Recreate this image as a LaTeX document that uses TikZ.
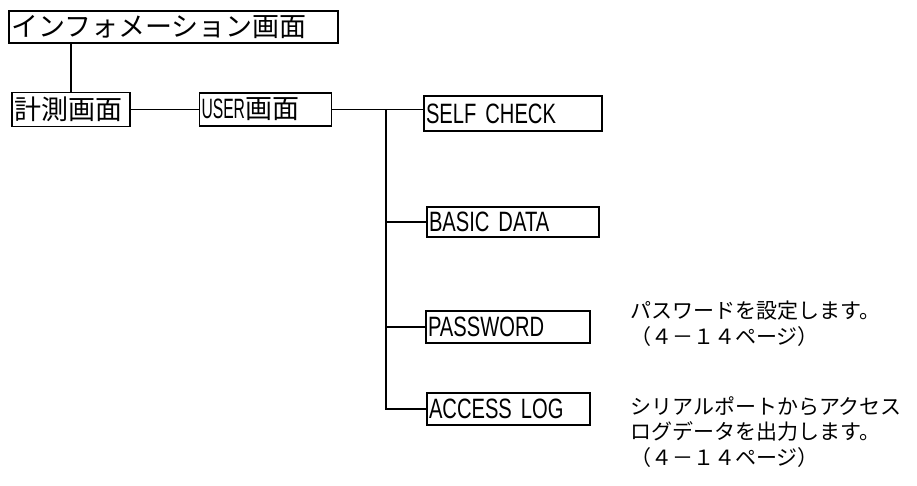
\documentclass[tikz,border=0pt]{standalone}
\usepackage{fontspec}
\setmainfont{Noto Sans CJK JP}
\newfontfamily\condfont{Liberation Sans}[FakeStretch=0.72]
\newfontfamily\narrowfont{Liberation Sans}[FakeStretch=0.56]
\usetikzlibrary{positioning}

\tikzset{
  screen/.style={draw, line width=1.3pt, inner xsep=2pt, inner ysep=0pt, align=left,
    font=\fontsize{27}{27}\selectfont},
  tree/.style={line width=1.3pt},
  note/.style={anchor=north west, align=left, inner sep=0pt,
    font=\fontsize{21}{21.5}\selectfont}
}
\newcommand{\lat}[1]{{\condfont\fontsize{28}{28}\selectfont #1}}
\newcommand{\latn}[1]{{\narrowfont\fontsize{28}{28}\selectfont #1}}

\begin{document}
\begin{tikzpicture}[x=1pt,y=-1pt]
        \useasboundingbox (0,0) rectangle (917,486);

        % top and second level screens
        \node[screen, text width=325pt, minimum height=32pt] (info) at (173.5,27) {インフォメーション画面};
        \node[screen, text width=114pt, minimum height=34pt] (meas) at (71,109.5) {計測画面};
        \node[screen, text width=128pt, minimum height=33pt] (user) at (265.5,109.5) {\latn{USER}画面};

        % USER sub screens
        \node[screen, text width=174pt, minimum height=35pt] (self) at (513,113.5) {\lat{SELF CHECK}};
        \node[screen, text width=168pt, minimum height=30pt] (basic) at (513,222) {\lat{BASIC DATA}};
        \node[screen, text width=160pt, minimum height=32pt] (pass) at (508,327) {\lat{PASSWORD}};
        \node[screen, text width=159pt, minimum height=32pt] (access) at (508.5,409) {\lat{ACCESS LOG}};

        % notes
        \node[note] (passnote) at (630,301) {パスワードを設定します。\\[4pt]（４－１４ページ）};
        \node[note] (accessnote) at (630,396) {シリアルポートからアクセス\\[4pt]ログデータを出力します。\\[4pt]（４－１４ページ）};

        % connectors
        \draw[tree] (meas.north) -- (meas.north |- info.south);
        \draw[tree] (meas) -- (user);
        \draw[tree] (user.east) -- (user.east -| self.west);

        % branch line
        \coordinate (fork) at (386,109.5);
        \draw[tree] (fork) |- (access.west);
        \draw[tree] (fork |- basic.west) -- (basic.west);
        \draw[tree] (fork |- pass.west) -- (pass.west);

\end{tikzpicture}
\end{document}
